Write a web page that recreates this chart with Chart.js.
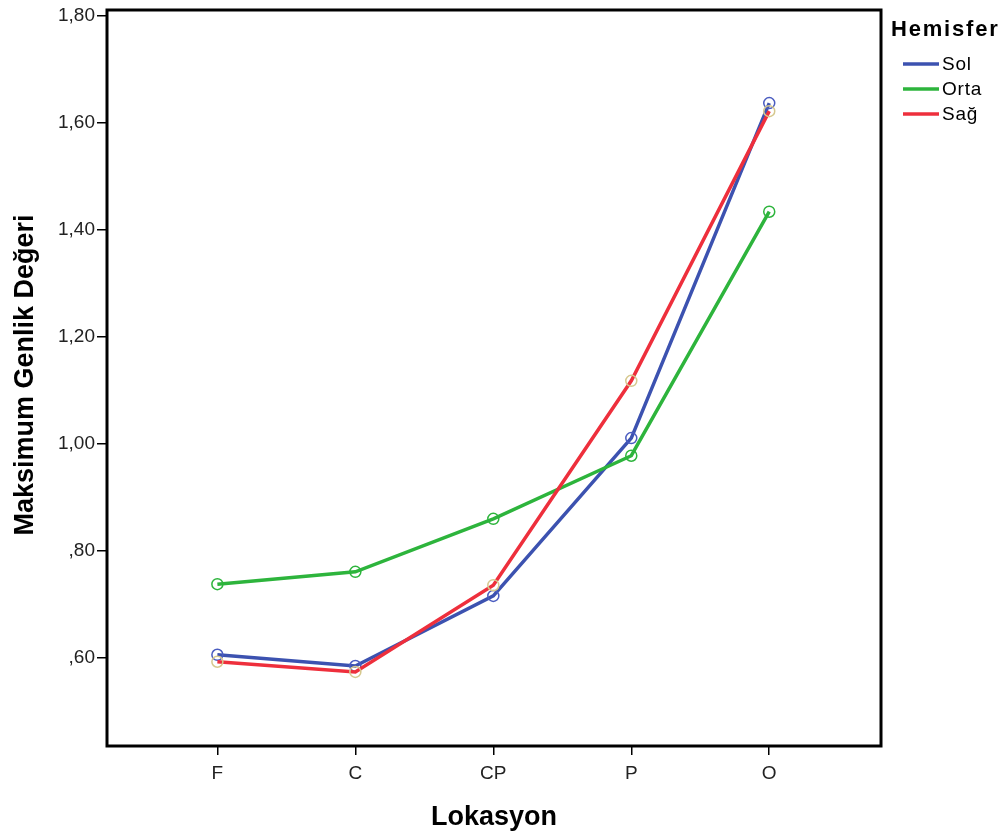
<!DOCTYPE html>
<html><head><meta charset="utf-8">
<script src="https://cdn.jsdelivr.net/npm/chart.js@4.4.1/dist/chart.umd.min.js"></script>
<style>html,body{margin:0;padding:0;background:#fff}#wrap{width:1004px;height:834px;position:relative}</style>
</head><body><div id="wrap"><canvas id="c" width="1004" height="834"></canvas></div>
<script>
const categories = ['F','C','CP','P','O'];
const sol  = [0.606, 0.585, 0.716, 1.011, 1.637];
const orta = [0.738, 0.761, 0.860, 0.978, 1.434];
const sag  = [0.593, 0.574, 0.736, 1.118, 1.622];
const yTicks = [0.6, 0.8, 1.0, 1.2, 1.4, 1.6, 1.8];
const seriesNames = ['Sol','Orta','Sağ'];
const legendTitle = 'Hemisfer';
const xTitle = 'Lokasyon';
const yTitle = 'Maksimum Genlik Değeri';

const colors = ['#3c52b0','#2db43c','#ee2f3c'];
const markerColors = ['#4a5cc0','#2db43c','#d6c88e'];
const FONT = '"Liberation Sans", Arial, sans-serif';

function pts(arr){ return arr.map((v,i)=>({x:i,y:v})); }
const values = [sol, orta, sag];

const frameAndText = {
  id:'frameAndText',
  afterDraw(chart){
    const {ctx, chartArea:a} = chart;
    ctx.save();
    ctx.strokeStyle = '#000'; ctx.lineWidth = 3;
    ctx.strokeRect(a.left, a.top, a.right-a.left, a.bottom-a.top);
    ctx.fillStyle = '#000';
    ctx.font = 'bold 27px ' + FONT;
    ctx.textAlign = 'center'; ctx.textBaseline = 'alphabetic';
    ctx.fillText(xTitle, 494, 825);
    ctx.save();
    ctx.translate(33, 375);
    ctx.rotate(-Math.PI/2);
    ctx.fillText(yTitle, 0, 0);
    ctx.restore();
    // legend
    ctx.textAlign = 'left'; ctx.textBaseline = 'middle';
    ctx.letterSpacing = '1.8px';
    ctx.font = 'bold 22px ' + FONT;
    ctx.fillText(legendTitle, 891, 30);
    ctx.letterSpacing = '0.8px';
    ctx.font = '19px ' + FONT;
    const ys = [64, 89, 114];
    chart.data.datasets.forEach((ds,i)=>{
      ctx.strokeStyle = ds.borderColor; ctx.lineWidth = 3.5;
      ctx.beginPath(); ctx.moveTo(903, ys[i]); ctx.lineTo(939, ys[i]); ctx.stroke();
      ctx.fillStyle = '#000';
      ctx.fillText(ds.label, 942, ys[i]+1);
    });
    ctx.restore();
  }
};

new Chart(document.getElementById('c'), {
  type:'line',
  data:{ datasets: values.map((v,i)=>({
    label: seriesNames[i], data: pts(v),
    borderColor: colors[i], borderWidth: 3.5,
    pointRadius: 5.5, pointBorderWidth: 1.5,
    pointBorderColor: markerColors[i], pointBackgroundColor: 'rgba(0,0,0,0)',
    tension: 0, order: 2 - i
  }))},
  options:{
    responsive:false, animation:false,
    layout:{ padding:{ top:10, right:123, left:0, bottom:0 } },
    plugins:{ legend:{display:false}, tooltip:{enabled:false} },
    scales:{
      x:{ type:'linear', min:-0.8, max:4.81,
        afterBuildTicks(s){ s.ticks = categories.map((c,i)=>({value:i})); },
        afterFit(s){ s.height = 88; s.paddingLeft = 0; s.paddingRight = 0; },
        grid:{ drawOnChartArea:false, drawTicks:true, tickLength:9, color:'#000', lineWidth:1.5 },
        border:{ display:false },
        ticks:{ callback:(v)=>categories[v], color:'#222', font:{family:FONT,size:19}, padding:7, maxRotation:0, autoSkip:false }
      },
      y:{ type:'linear', min:0.4355, max:1.811,
        afterBuildTicks(s){ s.ticks = yTicks.map(v=>({value:v})); },
        afterFit(s){ s.width = 107; s.paddingTop = 0; s.paddingBottom = 0; },
        grid:{ drawOnChartArea:false, drawTicks:true, tickLength:10, color:'#000', lineWidth:1.5 },
        border:{ display:false },
        ticks:{ callback:(v)=>v.toFixed(2).replace('.',',').replace(/^0/,''), color:'#222', font:{family:FONT,size:19}, padding:2 }
      }
    }
  },
  plugins:[frameAndText]
});
</script></body></html>
